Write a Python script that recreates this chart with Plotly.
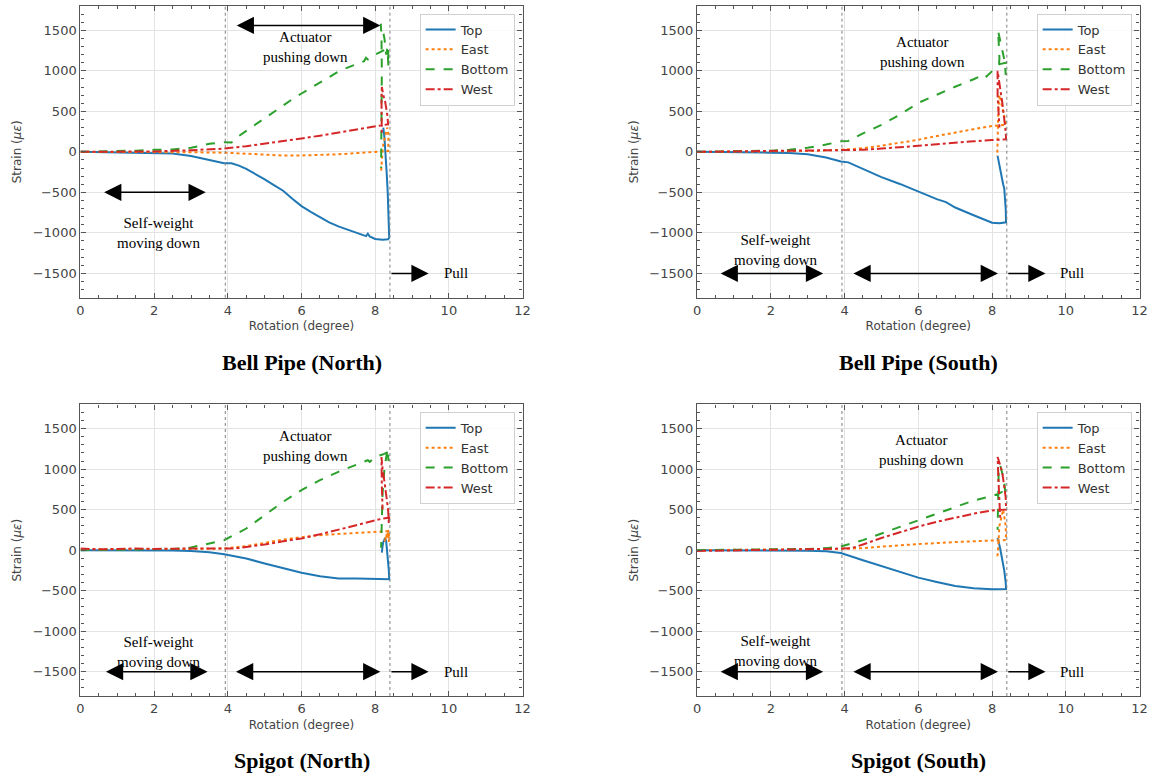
import plotly.graph_objects as go

# ---------------- Bell Pipe (North) ----------------
BN_TOP_X = [0, 1, 2, 2.5, 3, 3.5, 3.9, 4.1, 4.3, 4.5, 4.75, 5, 5.25, 5.5, 5.75, 6, 6.25, 6.5, 6.75, 7,
            7.25, 7.5, 7.75, 7.8, 7.85, 8, 8.2, 8.35, 8.38, 8.37, 8.34, 8.31, 8.28, 8.25, 8.22]
BN_TOP_Y = [0, -5, -12, -20, -50, -100, -140, -140, -170, -210, -270, -340, -410, -480, -580, -670, -740, -810, -870, -920,
            -965, -1000, -1040, -1010, -1045, -1075, -1085, -1080, -1060, -800, -500, -250, 0, 180, 300]
BN_EAST_X = [0, 1, 2, 3, 3.9, 4.5, 5, 5.5, 6, 6.5, 7, 7.5, 8, 8.35, 8.36, 8.33, 8.3, 8.27, 8.22, 8.18, 8.16]
BN_EAST_Y = [0, 0, -3, -5, -10, -25, -40, -45, -45, -40, -30, -15, 0, 10, 200, 300, 250, 200, 100, -100, -250]
BN_BOTTOM_X = [0, 1, 1.5, 2, 2.5, 3, 3.5, 3.9, 4.1, 4.25, 4.5, 4.75, 5, 5.25, 5.5, 5.75, 6, 6.25, 6.5, 6.75, 7,
               7.25, 7.5, 7.7, 7.75, 7.8, 8, 8.15, 8.3, 8.35, 8.36, 8.33, 8.3, 8.25, 8.2, 8.15, 8.17, 8.18, 8.17,
               8.16, 8.16]
BN_BOTTOM_Y = [0, 5, 15, 25, 30, 50, 100, 120, 115, 180, 260, 340, 420, 500, 580, 650, 720, 790, 860, 930, 990,
               1040, 1090, 1120, 1160, 1140, 1200, 1240, 1270, 1300, 1050, 1280, 1200, 1400, 1520, 1580, 1450, 1000,
               500, 0, -200]
BN_WEST_X = [0, 1, 2, 3, 3.9, 4.5, 5, 5.5, 6, 6.5, 7, 7.5, 8, 8.3, 8.35, 8.33, 8.3, 8.27, 8.22, 8.18, 8.17, 8.17,
             8.18]
BN_WEST_Y = [0, 5, 5, 20, 40, 70, 100, 135, 165, 200, 240, 280, 315, 340, 340, 450, 550, 620, 700, 800, 650, 400,
             200]

# ---------------- Bell Pipe (South) ----------------
BS_TOP_X = [0, 1, 2, 2.5, 3, 3.5, 3.9, 4.1, 4.5, 5, 5.5, 6, 6.5, 6.75, 7, 7.5, 8, 8.2, 8.38, 8.37, 8.33, 8.3,
            8.28, 8.25, 8.2, 8.17, 8.15]
BS_TOP_Y = [0, -2, -10, -15, -30, -70, -120, -130, -208, -312, -396, -492, -583, -620, -687, -783, -875, -880,
            -870, -700, -450, -400, -350, -300, -200, -100, -50]
BS_EAST_X = [0, 1, 2, 3, 3.9, 4.5, 5, 5.5, 6, 6.5, 7, 7.5, 8, 8.38, 8.35, 8.3, 8.25, 8.2, 8.17, 8.15, 8.14]
BS_EAST_Y = [0, 5, 5, 10, 25, 45, 75, 110, 150, 195, 240, 280, 320, 335, 400, 500, 600, 700, 500, 200, -50]
BS_BOTTOM_X = [0, 1, 2, 2.5, 3, 3.5, 3.9, 4.1, 4.5, 5, 5.5, 6, 6.5, 7, 7.5, 7.8, 7.85, 8, 8.2, 8.38, 8.37, 8.35,
               8.3, 8.25, 8.2, 8.16, 8.18, 8.2, 8.17]
BS_BOTTOM_Y = [0, 5, 15, 25, 50, 90, 130, 135, 228, 333, 458, 604, 708, 804, 896, 960, 930, 1000, 1083, 1100, 950,
               1100, 1200, 1300, 1420, 1500, 1350, 1150, 1000]
BS_WEST_X = [0, 1, 2, 3, 3.9, 4.5, 5, 5.5, 6, 6.5, 7, 7.5, 8, 8.38, 8.37, 8.33, 8.28, 8.23, 8.18, 8.15, 8.15,
             8.17, 8.2]
BS_WEST_Y = [0, 5, 5, 10, 15, 25, 40, 55, 75, 95, 115, 130, 145, 155, 250, 450, 600, 750, 900, 1000, 700, 500,
             300]

# ---------------- Spigot (North) ----------------
SN_TOP_X = [0, 1, 2, 2.5, 3, 3.5, 3.9, 4.5, 5, 5.5, 6, 6.5, 7, 7.5, 8, 8.38, 8.37, 8.35, 8.33, 8.3, 8.27, 8.22,
            8.2, 8.18]
SN_TOP_Y = [0, 0, -2, -5, -10, -25, -50, -103, -165, -226, -280, -321, -350, -350, -358, -360, -250, -150, 0, 100,
            150, 100, 50, -30]
SN_EAST_X = [0, 1, 2, 3, 3.9, 4.5, 5, 5.5, 6, 6.5, 7, 7.5, 8, 8.38, 8.37, 8.35, 8.32, 8.3, 8.27, 8.25]
SN_EAST_Y = [10, 10, 10, 15, 20, 50, 90, 130, 160, 185, 200, 215, 230, 235, 100, 250, 150, 200, 100, 130]
SN_BOTTOM_X = [0, 1, 2, 2.5, 3, 3.5, 3.9, 4.5, 5, 5.5, 6, 6.5, 7, 7.5, 7.8, 7.85, 8, 8.2, 8.38, 8.36, 8.34, 8.3,
               8.25, 8.2, 8.18, 8.17, 8.16]
SN_BOTTOM_Y = [0, 5, 10, 15, 33, 82, 123, 267, 432, 597, 741, 864, 967, 1062, 1110, 1090, 1152, 1180, 1220, 1100,
               1250, 1150, 1000, 700, 400, 100, 30]
SN_WEST_X = [0, 0.5, 1, 1.5, 2, 2.5, 3, 3.5, 3.9, 4.2, 4.5, 5, 5.5, 6, 6.5, 7, 7.5, 8, 8.2, 8.38, 8.37, 8.35,
             8.3, 8.25, 8.2, 8.17, 8.18, 8.2]
SN_WEST_Y = [20, 10, 15, 20, 15, 20, 20, 20, 15, 20, 40, 70, 110, 145, 195, 250, 305, 360, 390, 400, 330, 500,
             700, 850, 1000, 1150, 800, 500]

# ---------------- Spigot (South) ----------------
SS_TOP_X = [0, 1, 2, 3, 3.5, 3.9, 4.5, 5, 5.5, 6, 6.5, 7, 7.5, 8, 8.38, 8.37, 8.33, 8.28, 8.22, 8.18, 8.15]
SS_TOP_Y = [0, 0, -3, -8, -15, -35, -124, -198, -268, -339, -392, -442, -471, -483, -480, -400, -250, -100, 20,
            100, 150]
SS_EAST_X = [0, 1, 2, 3, 3.9, 4.5, 5, 5.5, 6, 6.5, 7, 7.5, 8, 8.38, 8.37, 8.33, 8.3, 8.25, 8.2, 8.16, 8.14]
SS_EAST_Y = [0, 3, 5, 10, 15, 25, 45, 60, 75, 90, 100, 110, 120, 125, 300, 450, 500, 400, 300, 0, -100]
SS_BOTTOM_X = [0, 1, 2, 3, 3.5, 3.9, 4.5, 5, 5.5, 6, 6.5, 7, 7.5, 8, 8.2, 8.38, 8.36, 8.33, 8.28, 8.22, 8.18,
               8.16, 8.15, 8.15]
SS_BOTTOM_Y = [0, 3, 8, 15, 25, 45, 124, 207, 289, 372, 455, 537, 612, 669, 700, 750, 700, 850, 950, 1050, 1000,
               700, 400, 250]
SS_WEST_X = [0, 1, 2, 3, 3.5, 3.9, 4.2, 4.5, 5, 5.5, 6, 6.5, 7, 7.5, 8, 8.38, 8.37, 8.33, 8.28, 8.22, 8.15, 8.17,
             8.2, 8.22]
SS_WEST_Y = [-10, -5, 0, 10, 15, 20, 25, 70, 150, 220, 290, 350, 400, 450, 490, 500, 650, 800, 950, 1050, 1150,
             900, 650, 400]

SERIES_NAMES = ["Top", "East", "Bottom", "West"]
SERIES_COLORS = ["#1f77b4", "#ff7f0e", "#2ca02c", "#d62728"]
SERIES_DASH = ["solid", "dot", "dash", "dashdot"]

PANEL_TITLES = ["Bell Pipe (North)", "Bell Pipe (South)", "Spigot (North)", "Spigot (South)"]

PANEL_DATA = [
    [(BN_TOP_X, BN_TOP_Y), (BN_EAST_X, BN_EAST_Y), (BN_BOTTOM_X, BN_BOTTOM_Y), (BN_WEST_X, BN_WEST_Y)],
    [(BS_TOP_X, BS_TOP_Y), (BS_EAST_X, BS_EAST_Y), (BS_BOTTOM_X, BS_BOTTOM_Y), (BS_WEST_X, BS_WEST_Y)],
    [(SN_TOP_X, SN_TOP_Y), (SN_EAST_X, SN_EAST_Y), (SN_BOTTOM_X, SN_BOTTOM_Y), (SN_WEST_X, SN_WEST_Y)],
    [(SS_TOP_X, SS_TOP_Y), (SS_EAST_X, SS_EAST_Y), (SS_BOTTOM_X, SS_BOTTOM_Y), (SS_WEST_X, SS_WEST_Y)],
]

# phase boundaries (rotation, degree)
PHASE_LINES = [3.93, 8.4]

# figure geometry (pixels)
W, H = 1155, 778
X_DOMAINS = [(77.3, 524.0), (700.3, 1147.5), (77.3, 524.0), (700.3, 1147.5)]
Y_DOMAINS = [(6.0, 297.7), (6.0, 297.7), (404.3, 696.0), (404.3, 696.0)]

# phase annotations per panel: (x_center, y_text, arrow_x0, arrow_x1, arrow_y)
SELF_WEIGHT = [(2.12, -1000, 0.6, 3.4, -500),
               (2.13, -1210, 0.6, 3.42, -1500),
               (2.12, -1260, 0.65, 3.45, -1500),
               (2.13, -1240, 0.6, 3.42, -1500)]
ACTUATOR = [(6.1, 1290, 4.2, 8.14, 1560),
            (6.12, 1230, 4.2, 8.16, -1500),
            (6.12, 1285, 4.18, 8.14, -1500),
            (6.1, 1240, 4.2, 8.16, -1500)]
PULL = [(10.18, 8.4, 9.45, -1500)] * 4

GREY_TEXT = "#444444"
FRAME = "#555555"
TICK_FONT = dict(family="DejaVu Sans", size=13, color=GREY_TEXT)
TITLE_FONT = dict(family="DejaVu Sans", size=12, color=GREY_TEXT)
SERIF = "Liberation Serif, Times New Roman, serif"
HEAD_SIZE = 2.3

fig = go.Figure()
layout = dict(
    width=W, height=H,
    margin=dict(l=0, r=0, t=0, b=0),
    paper_bgcolor="white", plot_bgcolor="white",
    showlegend=True,
)
shapes = []
annotations = []

for p in range(4):
    sfx = "" if p == 0 else str(p + 1)
    xa, ya = "x" + sfx, "y" + sfx
    legend_id = "legend" + sfx
    for s in range(4):
        xs, ys = PANEL_DATA[p][s]
        fig.add_trace(go.Scatter(
            x=xs, y=ys, mode="lines", name=SERIES_NAMES[s],
            line=dict(color=SERIES_COLORS[s], dash=SERIES_DASH[s], width=2),
            xaxis=xa, yaxis=ya, legend=legend_id,
        ))

    x0, x1 = X_DOMAINS[p]
    y0, y1 = Y_DOMAINS[p]
    axis_common = dict(
        showline=True, linecolor=FRAME, linewidth=1.4, mirror="allticks",
        ticks="inside", ticklen=5, tickwidth=1, tickcolor=FRAME,
        showgrid=True, gridcolor="#e3e3e3", gridwidth=1,
        zeroline=False, tickfont=TICK_FONT,
    )
    layout["xaxis" + sfx] = dict(
        axis_common, domain=[x0 / W, x1 / W], range=[0, 12], dtick=2, tick0=0,
        anchor=ya, title=dict(text="Rotation (degree)", font=TITLE_FONT, standoff=5),
        minor=dict(dtick=0.5, ticks="inside", ticklen=3, tickcolor=FRAME, showgrid=False),
    )
    layout["yaxis" + sfx] = dict(
        axis_common, domain=[1 - y1 / H, 1 - y0 / H], range=[-1800, 1800], dtick=500, tick0=0,
        anchor=xa, title=dict(text="Strain (<i>με</i>)", font=TITLE_FONT, standoff=8),
        minor=dict(dtick=100, ticks="inside", ticklen=3, tickcolor=FRAME, showgrid=False),
        tickformat="d",
    )
    layout[legend_id] = dict(
        x=(x1 - 8) / W, y=1 - (y0 + 7.5) / H, xanchor="right", yanchor="top",
        bgcolor="rgba(255,255,255,0.85)", bordercolor="#d0d0d0", borderwidth=1,
        font=dict(family="DejaVu Sans", size=13, color="#333333"), itemwidth=30,
    )

    for xv in PHASE_LINES:
        shapes.append(dict(type="line", xref=xa, yref=ya + " domain", x0=xv, x1=xv, y0=0, y1=1,
                           line=dict(color="#808080", width=1, dash="dot")))

    arrow_style = dict(showarrow=True, arrowhead=2, arrowsize=HEAD_SIZE, arrowwidth=1.5, arrowcolor="black",
                       xref=xa, yref=ya, axref=xa, ayref=ya, text="")
    label_font = dict(family=SERIF, size=15, color="black")

    cx, ty, ax0, ax1, ay = SELF_WEIGHT[p]
    annotations.append(dict(arrow_style, x=ax1, y=ay, ax=ax0, ay=ay, arrowside="end+start",
                            startarrowhead=2, startarrowsize=HEAD_SIZE))
    annotations.append(dict(x=cx, y=ty, xref=xa, yref=ya, showarrow=False, font=label_font,
                            text="Self-weight<br>moving down", align="center"))
    cx, ty, ax0, ax1, ay = ACTUATOR[p]
    annotations.append(dict(arrow_style, x=ax1, y=ay, ax=ax0, ay=ay, arrowside="end+start",
                            startarrowhead=2, startarrowsize=HEAD_SIZE))
    annotations.append(dict(x=cx, y=ty, xref=xa, yref=ya, showarrow=False, font=label_font,
                            text="Actuator<br>pushing down", align="center"))
    tx, ax0, ax1, ay = PULL[p]
    annotations.append(dict(arrow_style, x=ax1, y=ay, ax=ax0, ay=ay))
    annotations.append(dict(x=tx, y=ay, xref=xa, yref=ya, showarrow=False, font=label_font, text="Pull"))

    # panel caption below the axis
    cap_y = 362 if p < 2 else 760
    annotations.append(dict(x=(x0 + x1) / 2 / W, y=1 - cap_y / H, xref="paper", yref="paper",
                            showarrow=False, text="<b>" + PANEL_TITLES[p] + "</b>",
                            font=dict(family=SERIF, size=22, color="black"),
                            xanchor="center", yanchor="middle"))

layout["shapes"] = shapes
layout["annotations"] = annotations
fig.update_layout(**layout)

fig.write_html("out.html")
